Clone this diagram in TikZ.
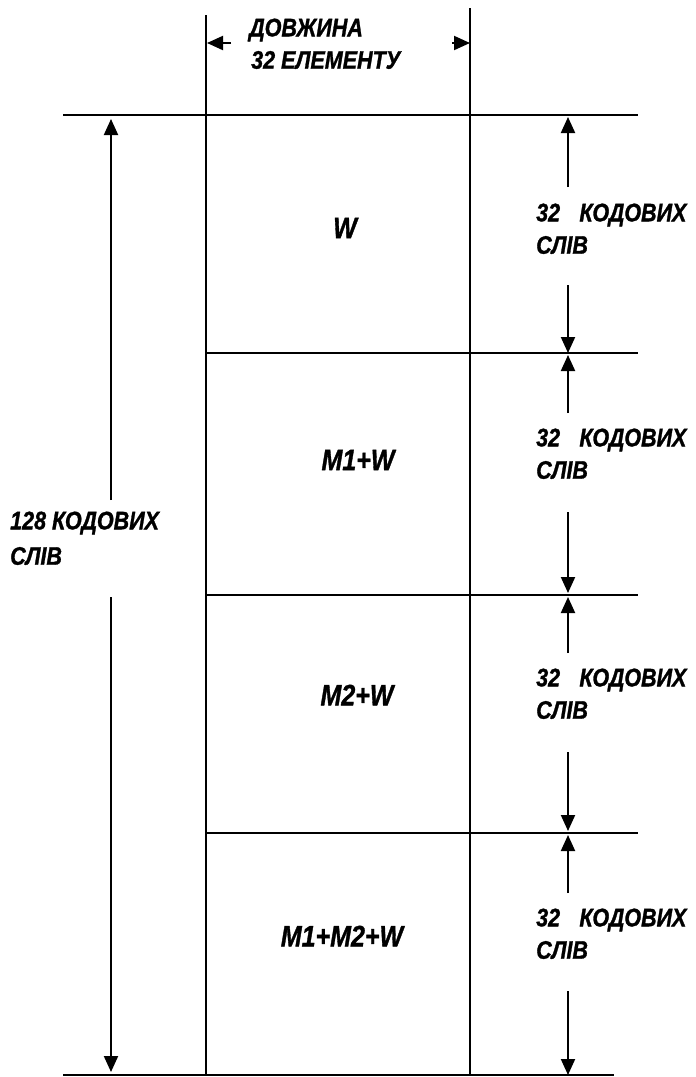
\documentclass[tikz,border=0pt]{standalone}
\usepackage{fontspec}
\usepackage{graphicx}
\setmainfont{Liberation Sans}[BoldItalicFeatures={FakeBold=1.3}]
\usetikzlibrary{arrows.meta}
\newcommand{\stretchy}[1]{\scalebox{1}[1.18]{#1}}
\begin{document}
\begin{tikzpicture}[x=1pt,y=-1pt,
  gridline/.style={line width=1.4pt},
  dimarrow/.style={line width=2pt,-{Triangle[length=16pt,width=14pt]}},
  lbl/.style={font=\fontsize{21.5}{31}\selectfont\bfseries\itshape,inner sep=0pt},
  cell/.style={font=\fontsize{25}{31}\selectfont\bfseries\itshape,inner sep=0pt,anchor=center}]
\useasboundingbox (0,0) rectangle (696,1077);
% grid coordinates
\coordinate (Lt) at (206,15);   \coordinate (Lb) at (206,1075);
\coordinate (Rt) at (470,8);    \coordinate (Rb) at (470,1075);
\coordinate (h0a) at (63,115);  \coordinate (h0b) at (638,115);
\coordinate (h1a) at (206,353); \coordinate (h1b) at (638,353);
\coordinate (h2a) at (206,595); \coordinate (h2b) at (638,595);
\coordinate (h3a) at (206,833); \coordinate (h3b) at (638,833);
\coordinate (h4a) at (63,1075); \coordinate (h4b) at (614,1075);
\draw[gridline] (Lt) -- (Lb);
\draw[gridline] (Rt) -- (Rb);
\foreach \i in {0,...,4}{\draw[gridline] (h\i a) -- (h\i b);}
% top dimension
\coordinate (tl0) at (231,43); \coordinate (tl1) at (207,43);
\coordinate (tr0) at (452,43); \coordinate (tr1) at (470,43);
\draw[dimarrow] (tl0) -- (tl1);
\draw[dimarrow] (tr0) -- (tr1);
\node[lbl,anchor=west] (dl1) at (249,30) {\stretchy{ДОВЖИНА}};
\node[lbl,anchor=west] (dl2) at (251,60) {\stretchy{32 ЕЛЕМЕНТУ}};
% left dimension
\coordinate (la0) at (111,500); \coordinate (la1) at (111,119);
\coordinate (lb0) at (111,597); \coordinate (lb1) at (111,1072);
\draw[dimarrow] (la0) -- (la1);
\draw[dimarrow] (lb0) -- (lb1);
\node[lbl,anchor=west] (ll1) at (10,523) {\stretchy{128 КОДОВИХ}};
\node[lbl,anchor=west] (ll2) at (10,556) {\stretchy{СЛІВ}};
% right dimensions
\foreach \n/\ta/\tb/\ba/\bb/\ty in {1/117/187/285/353/215, 2/355/413/512/593/440, 3/597/653/752/831/680, 4/835/893/991/1075/920}{
  \coordinate (ru\n0) at (568,\tb); \coordinate (ru\n1) at (568,\ta);
  \coordinate (rd\n0) at (568,\ba); \coordinate (rd\n1) at (568,\bb);
  \draw[dimarrow] (ru\n0) -- (ru\n1);
  \draw[dimarrow] (rd\n0) -- (rd\n1);
  \node[lbl,anchor=west] (rl\n a) at (536,\ty) {\stretchy{32\hspace{0.9em}КОДОВИХ}};
  \node[lbl,anchor=west] (rl\n b) at (536,\ty+30) {\stretchy{СЛІВ}};
}
% cell labels
\node[cell] (c1) at (345,228) {\stretchy{W}};
\node[cell] (c2) at (358,460) {\stretchy{M1+W}};
\node[cell] (c3) at (357,695) {\stretchy{M2+W}};
\node[cell] (c4) at (342,936) {\stretchy{M1+M2+W}};
\end{tikzpicture}
\end{document}
